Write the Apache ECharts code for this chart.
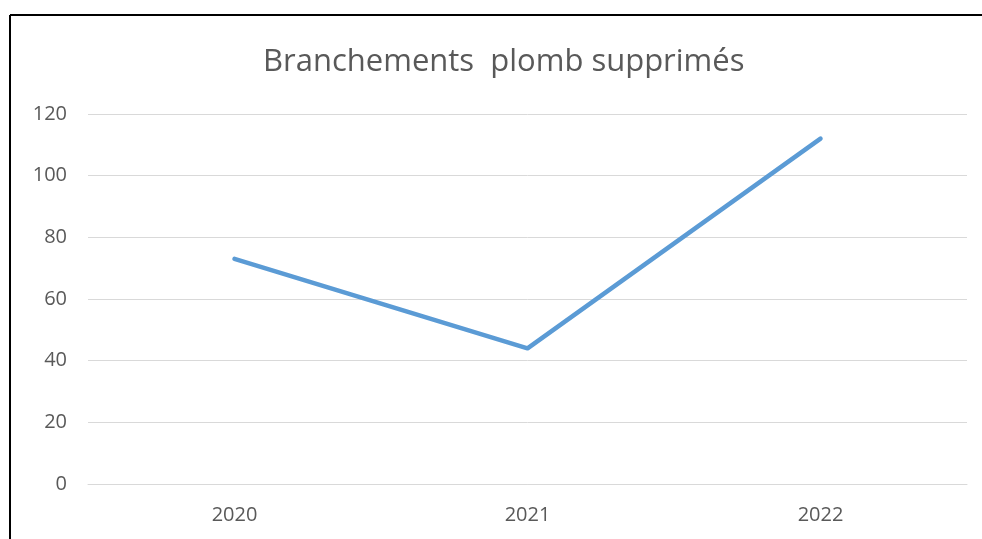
<!DOCTYPE html>
<html>
<head>
<meta charset="utf-8">
<script src="https://cdn.jsdelivr.net/npm/echarts@6/dist/echarts.min.js"></script>
<style>
  html, body { margin:0; padding:0; background:#fff; }
  #main { width:982px; height:539px; }
</style>
</head>
<body>
<div id="main"></div>
<script>
var chartTitle = 'Branchements  plomb supprimés';
var years = ['2020', '2021', '2022'];
var values = [73, 44, 112];
var yTicks = [0, 20, 40, 60, 80, 100, 120];

var chart = echarts.init(document.getElementById('main'));
var option = {
  backgroundColor: '#fff',
  animation: false,
  title: {
    text: chartTitle,
    left: 258,
    top: 42,
    textStyle: { color: '#595959', fontSize: 31, fontWeight: 'normal', fontFamily: 'Open Sans' }
  },
  grid: { left: 88, right: 15, top: 114, bottom: 55 },
  xAxis: {
    type: 'category',
    data: years,
    boundaryGap: true,
    axisLine: { lineStyle: { color: '#d9d9d9', width: 1 } },
    axisTick: { show: false },
    axisLabel: { color: '#595959', fontSize: 20, fontFamily: 'Open Sans', margin: 21 }
  },
  yAxis: {
    type: 'value',
    min: yTicks[0],
    max: yTicks[yTicks.length - 1],
    interval: 20,
    axisLine: { show: false },
    axisTick: { show: false },
    axisLabel: { color: '#595959', fontSize: 20, fontFamily: 'Open Sans', margin: 21 },
    splitLine: { lineStyle: { color: '#d9d9d9', width: 1 } }
  },
  series: [{
    type: 'line',
    data: values,
    symbol: 'none',
    lineStyle: { color: '#5b9bd5', width: 4.5, cap: 'round', join: 'round' }
  }],
  graphic: [
    { type: 'line', shape: { x1: 10, y1: 15, x2: 982, y2: 15 }, style: { stroke: '#000', lineWidth: 2 } },
    { type: 'line', shape: { x1: 10, y1: 15, x2: 10, y2: 539 }, style: { stroke: '#000', lineWidth: 2 } }
  ]
};
chart.setOption(option);
</script>
</body>
</html>
